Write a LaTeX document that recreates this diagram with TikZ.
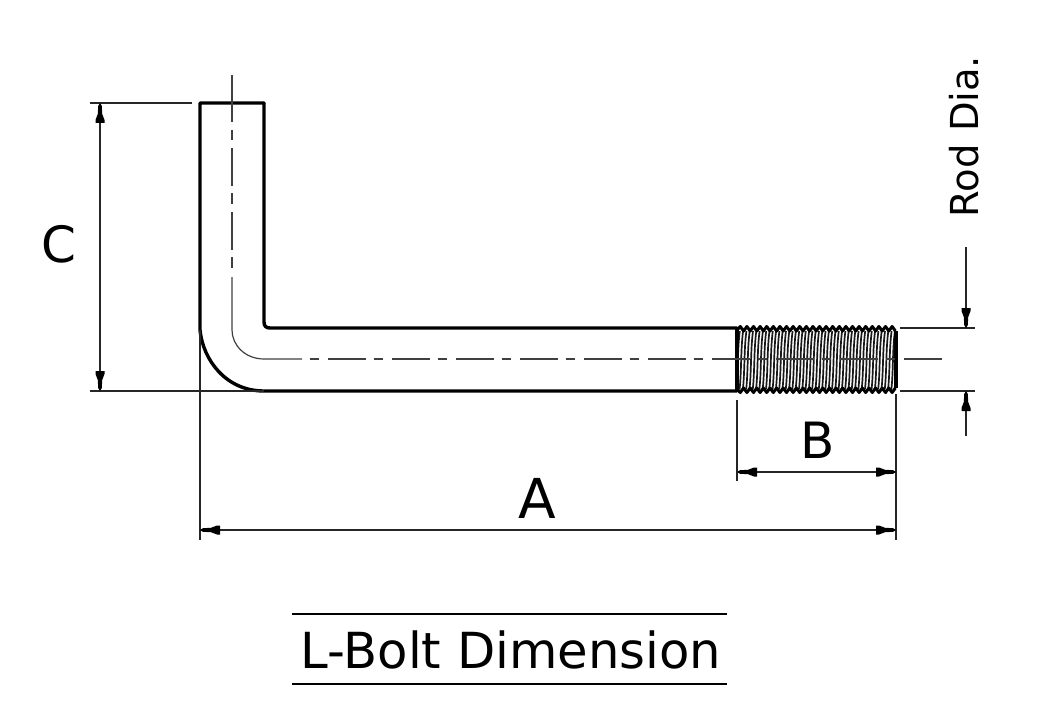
\documentclass[tikz,border=0pt]{standalone}
\usepackage{fontspec}
\setmainfont{DejaVu Sans}
\usetikzlibrary{arrows.meta}
\tikzset{
  x=1pt,y=-1pt,
  thin line/.style={line width=1.1pt,draw=black!85},
  thick line/.style={line width=3.4pt,line join=round,line cap=round},
  centre line/.style={line width=1.2pt,draw=black!75},
  head/.pic={\fill[black] (0,0) -- (3,1.8) -- (11,2.2) -- (17,4.5) -- (20,4.5) -- (20,-4.5) -- (17,-4.5) -- (11,-2.2) -- (3,-1.8) -- cycle;},
  lbl/.style={inner sep=0pt,text=black}
}
\begin{document}
\begin{tikzpicture}
\useasboundingbox (0,0) rectangle (1059,714);
% named reference points
\coordinate (cTop) at (100,103); \coordinate (cBot) at (100,391);
\coordinate (aL) at (200,530); \coordinate (aR) at (896,530);
\coordinate (bL) at (737,472); \coordinate (bR) at (896,472);
\coordinate (rT) at (966,328); \coordinate (rB) at (966,391);
\coordinate (rTs) at (966,247); \coordinate (rBs) at (966,436);
% hatching of thread
\begin{scope}
\clip (737,331) rectangle (896,389);
\foreach \i in {0,...,50} {
  \draw[line width=1.7pt,draw=black!90]
    ({733+3.3*\i},389) .. controls ({735+3.3*\i},370) and ({734+3.3*\i},350) .. ({736.5+3.3*\i},331);
}
\end{scope}
% body
\draw[thick line] (264,103) -- (200,103) -- (200,330) .. controls (203,360) and (226,391) .. (264,391) -- (737,391);
\draw[thick line] (264,103) -- (264,322) .. controls (264,326) and (266,328) .. (270,328) -- (737,328);
\draw[line width=4pt] (737,328) -- (737,391);
\draw[line width=3.4pt] (896,331) -- (896,388);
% thread crests
\draw[line width=3pt,line join=round] (737,330)
  \foreach \i in {0,...,23} { -- ({740.3+6.6*\i},326.5) -- ({743.6+6.6*\i},331) };
\draw[line width=3pt,line join=round] (737,389)
  \foreach \i in {0,...,23} { -- ({740.3+6.6*\i},392.5) -- ({743.6+6.6*\i},388) };
% centre lines
\draw[centre line] (232,75) -- (232,122) (232,130) -- (232,140) (232,148) -- (232,186)
  (232,193) -- (232,204) (232,212) -- (232,250) (232,257) -- (232,268);
\draw[centre line] (232,277) -- (232,330) .. controls (232,345) and (245,359) .. (264,359) -- (302,359);
\foreach \k in {0,...,9} {
  \pgfmathsetmacro{\s}{309.7+64*\k}
  \draw[centre line] (\s,359) -- ({\s+9},359) ({\s+18},359) -- ({\s+56},359);
}
\draw[centre line] (886,359) -- (895,359);
\draw[centre line] (904,359) -- (940,359);
% extension lines
\draw[thin line] (90,103) -- (192,103);
\draw[thin line] (90,391) -- (264,391);
\draw[thin line] (200,330) -- (200,540);
\draw[thin line] (896,394) -- (896,540);
\draw[thin line] (737,400) -- (737,481);
\draw[thin line] (900,328) -- (975,328);
\draw[thin line] (900,391) -- (975,391);
% dimensions
\draw[thin line] (cTop) -- (cBot);
\draw[thin line] (aL) -- (aR);
\draw[thin line] (bL) -- (bR);
\draw[thin line] (rTs) -- (rT);
\draw[thin line] (rBs) -- (rB);
\pic[rotate=-90] at (cTop) {head};
\pic[rotate=90] at (cBot) {head};
\pic at (aL) {head};
\pic[rotate=180] at (aR) {head};
\pic at (bL) {head};
\pic[rotate=180] at (bR) {head};
\pic[rotate=90] at (rT) {head};
\pic[rotate=-90] at (rB) {head};
% labels
\node[lbl,font=\fontsize{50}{50}\selectfont] (labC) at (59,244) {C};
\node[lbl,font=\fontsize{50}{50}\selectfont] (labB) at (818,440) {B};
\node[lbl,font=\fontsize{55}{55}\selectfont] (labA) at (537,498) {A};
\node[lbl,font=\fontsize{38.5}{38.5}\selectfont,rotate=90] (labR) at (964,136.5) {Rod Dia.};
\node[lbl,font=\fontsize{49.7}{49.7}\selectfont] (labT) at (511,650) {L-Bolt Dimension};
\draw[line width=1.6pt] (292,614) -- (727,614);
\draw[line width=1.6pt] (292,684) -- (727,684);
\end{tikzpicture}
\end{document}
